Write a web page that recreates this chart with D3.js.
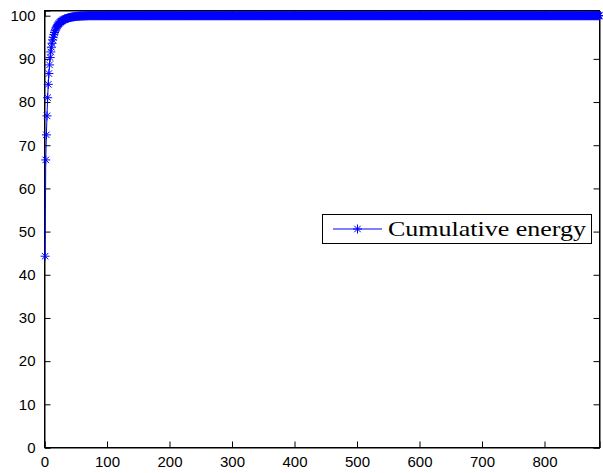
<!DOCTYPE html>
<html>
<head>
<meta charset="utf-8">
<script src="https://cdn.jsdelivr.net/npm/d3@7/dist/d3.min.js"></script>
<style>
html,body{margin:0;padding:0;background:#fff;}
svg{display:block;}
</style>
</head>
<body>
<script>
// ---- data ----
const headValues = [44.3, 66.6, 72.4, 76.8, 81.0, 84.1, 86.6, 88.6, 90.3, 91.6,
  92.7, 93.6, 94.4, 95.0, 95.6, 96.1, 96.5, 96.9, 97.2, 97.5,
  97.75, 97.95, 98.15, 98.3, 98.45, 98.58, 98.7, 98.8, 98.9, 99.0,
  99.08, 99.15, 99.22, 99.28, 99.34, 99.39, 99.44, 99.48, 99.52, 99.56,
  99.6, 99.63, 99.66, 99.69, 99.72, 99.74, 99.76, 99.78, 99.8, 99.82,
  99.84, 99.85, 99.87, 99.88, 99.89, 99.9, 99.91, 99.92, 99.93, 99.94,
  99.95, 99.95, 99.96, 99.96, 99.97, 99.97, 99.98, 99.98, 99.99, 99.99];
const tailValues = [
/*01*/100,100,100,100,100,100,100,100,100,100,100,100,100,100,100,100,100,100,100,100,
/*02*/100,100,100,100,100,100,100,100,100,100,100,100,100,100,100,100,100,100,100,100,
/*03*/100,100,100,100,100,100,100,100,100,100,100,100,100,100,100,100,100,100,100,100,
/*04*/100,100,100,100,100,100,100,100,100,100,100,100,100,100,100,100,100,100,100,100,
/*05*/100,100,100,100,100,100,100,100,100,100,100,100,100,100,100,100,100,100,100,100,
/*06*/100,100,100,100,100,100,100,100,100,100,100,100,100,100,100,100,100,100,100,100,
/*07*/100,100,100,100,100,100,100,100,100,100,100,100,100,100,100,100,100,100,100,100,
/*08*/100,100,100,100,100,100,100,100,100,100,100,100,100,100,100,100,100,100,100,100,
/*09*/100,100,100,100,100,100,100,100,100,100,100,100,100,100,100,100,100,100,100,100,
/*10*/100,100,100,100,100,100,100,100,100,100,100,100,100,100,100,100,100,100,100,100,
/*11*/100,100,100,100,100,100,100,100,100,100,100,100,100,100,100,100,100,100,100,100,
/*12*/100,100,100,100,100,100,100,100,100,100,100,100,100,100,100,100,100,100,100,100,
/*13*/100,100,100,100,100,100,100,100,100,100,100,100,100,100,100,100,100,100,100,100,
/*14*/100,100,100,100,100,100,100,100,100,100,100,100,100,100,100,100,100,100,100,100,
/*15*/100,100,100,100,100,100,100,100,100,100,100,100,100,100,100,100,100,100,100,100,
/*16*/100,100,100,100,100,100,100,100,100,100,100,100,100,100,100,100,100,100,100,100,
/*17*/100,100,100,100,100,100,100,100,100,100,100,100,100,100,100,100,100,100,100,100,
/*18*/100,100,100,100,100,100,100,100,100,100,100,100,100,100,100,100,100,100,100,100,
/*19*/100,100,100,100,100,100,100,100,100,100,100,100,100,100,100,100,100,100,100,100,
/*20*/100,100,100,100,100,100,100,100,100,100,100,100,100,100,100,100,100,100,100,100,
/*21*/100,100,100,100,100,100,100,100,100,100,100,100,100,100,100,100,100,100,100,100,
/*22*/100,100,100,100,100,100,100,100,100,100,100,100,100,100,100,100,100,100,100,100,
/*23*/100,100,100,100,100,100,100,100,100,100,100,100,100,100,100,100,100,100,100,100,
/*24*/100,100,100,100,100,100,100,100,100,100,100,100,100,100,100,100,100,100,100,100,
/*25*/100,100,100,100,100,100,100,100,100,100,100,100,100,100,100,100,100,100,100,100,
/*26*/100,100,100,100,100,100,100,100,100,100,100,100,100,100,100,100,100,100,100,100,
/*27*/100,100,100,100,100,100,100,100,100,100,100,100,100,100,100,100,100,100,100,100,
/*28*/100,100,100,100,100,100,100,100,100,100,100,100,100,100,100,100,100,100,100,100,
/*29*/100,100,100,100,100,100,100,100,100,100,100,100,100,100,100,100,100,100,100,100,
/*30*/100,100,100,100,100,100,100,100,100,100,100,100,100,100,100,100,100,100,100,100,
/*31*/100,100,100,100,100,100,100,100,100,100,100,100,100,100,100,100,100,100,100,100,
/*32*/100,100,100,100,100,100,100,100,100,100,100,100,100,100,100,100,100,100,100,100,
/*33*/100,100,100,100,100,100,100,100,100,100,100,100,100,100,100,100,100,100,100,100,
/*34*/100,100,100,100,100,100,100,100,100,100,100,100,100,100,100,100,100,100,100,100,
/*35*/100,100,100,100,100,100,100,100,100,100,100,100,100,100,100,100,100,100,100,100,
/*36*/100,100,100,100,100,100,100,100,100,100,100,100,100,100,100,100,100,100,100,100,
/*37*/100,100,100,100,100,100,100,100,100,100,100,100,100,100,100,100,100,100,100,100,
/*38*/100,100,100,100,100,100,100,100,100,100,100,100,100,100,100,100,100,100,100,100,
/*39*/100,100,100,100,100,100,100,100,100,100,100,100,100,100,100,100,100,100,100,100,
/*40*/100,100,100,100,100,100,100,100,100,100,100,100,100,100,100,100,100,100,100,100,
/*41*/100,100,100,100,100,100,100,100,100,100,100,100,100,100,100,100,100,100];
const seriesValues = headValues.concat(tailValues);
const xTicks = [0, 100, 200, 300, 400, 500, 600, 700, 800];
const yTicks = [0, 10, 20, 30, 40, 50, 60, 70, 80, 90, 100];
const legendLabel = "Cumulative energy";
const xMax = 888;
const yMax = 101.2;

// ---- layout ----
const W = 603, H = 473;
const mLeft = 44.5, mRight = 599.5, mTop = 10.5, mBottom = 447.5;

const svg = d3.select("body").append("svg").attr("width", W).attr("height", H);

const x = d3.scaleLinear().domain([0, xMax]).range([mLeft, mRight]);
const y = d3.scaleLinear().domain([0, yMax]).range([mBottom, mTop]);

const tickLen = 6;
const fontSans = "'Liberation Sans', Arial, Helvetica, sans-serif";

// box
svg.append("rect").attr("x", mLeft).attr("y", mTop)
  .attr("width", mRight - mLeft).attr("height", mBottom - mTop)
  .attr("fill", "#fff").attr("stroke", "#000").attr("stroke-width", 1);

// axes
const xAxisB = d3.axisBottom(x).tickValues(xTicks).tickSize(-tickLen).tickPadding(tickLen + 3);
const gxb = svg.append("g").attr("transform", `translate(0,${mBottom})`).call(xAxisB);
const xAxisT = d3.axisTop(x).tickValues(xTicks).tickSize(-tickLen).tickFormat("");
const gxt = svg.append("g").attr("transform", `translate(0,${mTop})`).call(xAxisT);
const yAxisL = d3.axisLeft(y).tickValues(yTicks).tickSize(-tickLen).tickPadding(tickLen + 3);
const gyl = svg.append("g").attr("transform", `translate(${mLeft},0)`).call(yAxisL);
const yAxisR = d3.axisRight(y).tickValues(yTicks).tickSize(-tickLen).tickFormat("");
const gyr = svg.append("g").attr("transform", `translate(${mRight},0)`).call(yAxisR);

[gxb, gxt, gyl, gyr].forEach(g => {
  g.select(".domain").attr("stroke", "#000");
  g.selectAll(".tick line").attr("stroke", "#000");
  g.selectAll("text").attr("fill", "#000").style("font-family", fontSans).style("font-size", "15px");
});

// series
const pts = seriesValues.map((v, i) => [i + 1, v]);
const blue = "#0000ff";
const line = d3.line().x(d => x(d[0])).y(d => y(d[1]));
svg.append("path").datum(pts).attr("d", line)
  .attr("fill", "none").attr("stroke", blue).attr("stroke-width", 1);

const r = 4.5, rd = r * 0.72;
function starPath(cx, cy) {
  return `M${cx - r},${cy}H${cx + r}M${cx},${cy - r}V${cy + r}` +
    `M${cx - rd},${cy - rd}L${cx + rd},${cy + rd}M${cx - rd},${cy + rd}L${cx + rd},${cy - rd}`;
}
svg.append("path")
  .attr("d", pts.map(d => starPath(x(d[0]), y(d[1]))).join(""))
  .attr("fill", "none").attr("stroke", blue).attr("stroke-width", 1);

// legend
const lg = svg.append("g");
lg.append("rect").attr("x", 322.5).attr("y", 214.5).attr("width", 269).attr("height", 29)
  .attr("fill", "#fff").attr("stroke", "#000").attr("stroke-width", 1);
lg.append("line").attr("x1", 333).attr("x2", 382).attr("y1", 229).attr("y2", 229)
  .attr("stroke", blue).attr("stroke-width", 1);
lg.append("path").attr("d", starPath(357.5, 229)).attr("stroke", blue).attr("fill", "none");
lg.append("text").attr("x", 388).attr("y", 236)
  .attr("textLength", 198).attr("lengthAdjust", "spacingAndGlyphs")
  .style("font-family", "'Liberation Serif', 'DejaVu Serif', serif").style("font-size", "22px")
  .attr("fill", "#000").text(legendLabel);
</script>
</body>
</html>
